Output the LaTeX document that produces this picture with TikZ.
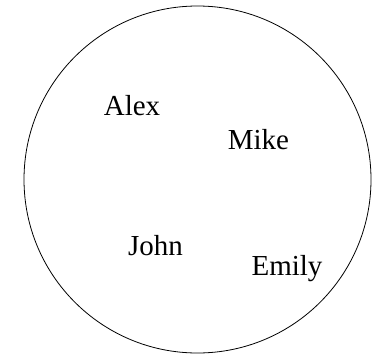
\documentclass[tikz,border=0pt]{standalone}
\usepackage{fontspec}
\setmainfont{Liberation Serif}
\usepackage{tikz}
\usetikzlibrary{positioning}

\begin{document}
\begin{tikzpicture}[
        x=1pt, y=1pt,
        group/.style={draw, circle, line width=0.8pt, inner sep=0pt, minimum size=347pt},
        person/.style={anchor=base, inner sep=0pt, font=\fontsize{29}{34}\selectfont}
    ]
        \useasboundingbox (0,0) rectangle (379,354);
        \node (group) [group] at (197.5,174.5) {};
        \node (alex) [person] at (132,239) {Alex};
        \node (mike) [person] at (258.5,204.7) {Mike};
        \node (john) [person] at (155.5,99) {John};
        \node (emily) [person] at (287,79) {Emily};
    \end{tikzpicture}
\end{document}
